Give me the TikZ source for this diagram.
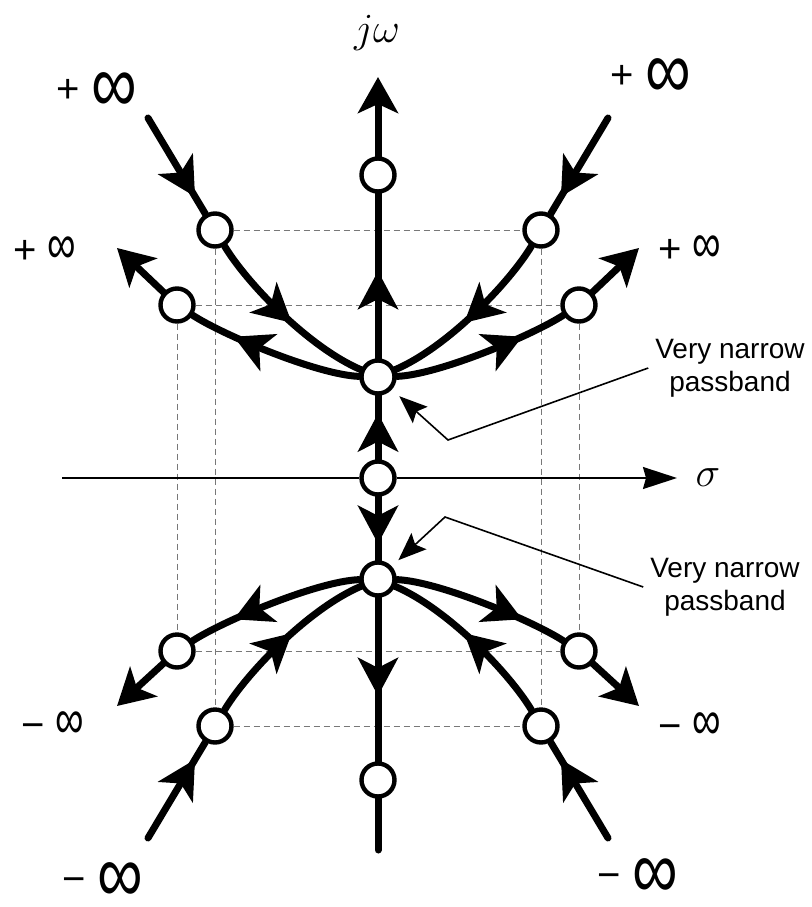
\documentclass[tikz,border=0pt]{standalone}
\usepackage[no-math]{fontspec}
\setmainfont{Liberation Sans}
\usepackage{tikz}
\usetikzlibrary{arrows.meta, decorations.markings}
\definecolor{GuideGray}{RGB}{120, 120, 120}
\newcommand{\biginf}{\raisebox{-5pt}[0pt][0pt]{\fontsize{32}{32}\selectfont\scalebox{1}[1.3]{∞}}}
\newcommand{\smallinf}{\scalebox{1}[1.4]{∞}}
\tikzset{
  pole/.style={circle, draw, fill=white, line width=2.2pt,
    minimum size=16.5pt, inner sep=0pt},
  locus/.style={line width=3.5pt, line cap=round},
  midarr/.style={postaction={decorate}, decoration={markings,
    mark=at position #1 with {\arrow{Stealth[length=19pt,width=20pt,inset=5pt]}}}},
  endarr/.style={-{Stealth[length=18pt,width=20pt,inset=4.5pt]}},
  guide/.style={densely dashed, line width=0.4pt, color=GuideGray},
  axis/.style={line width=0.8pt},
  note/.style={align=center, font=\fontsize{14}{16.5}\selectfont},
  leader/.style={line width=0.8pt, -{Stealth[length=14pt,width=11pt,inset=2.5pt]}},
  inflbl/.style={font=\fontsize{20}{24}\selectfont, inner sep=0pt},
  mlbl/.style={font=\fontsize{20}{24}\selectfont},
}
\begin{document}
\begin{tikzpicture}[x=0.5pt, y=-0.5pt]
  \useasboundingbox (0,0) rectangle (812,907);
  % poles and zeros
  \node[pole] (top) at (378,175) {};
  \node[pole] (pbu) at (378,377) {};
  \node[pole] (org) at (378,478) {};
  \node[pole] (pbl) at (378,579) {};
  \node[pole] (bot) at (378,780) {};
  \node[pole] (ula) at (215,230) {}; \node[pole] (ulb) at (177,305) {};
  \node[pole] (ura) at (541,230) {}; \node[pole] (urb) at (579,305) {};
  \node[pole] (lla) at (215,726) {}; \node[pole] (llb) at (177,651) {};
  \node[pole] (lra) at (541,726) {}; \node[pole] (lrb) at (579,651) {};
  \coordinate (jwtip) at (378,77); \coordinate (jwend) at (378,850);
  \coordinate (s0) at (62,478); \coordinate (s1) at (677,478);
  \coordinate (ula0) at (148,118); \coordinate (ura0) at (608,118);
  \coordinate (lla0) at (148,838); \coordinate (lra0) at (608,838);
  \coordinate (ulb0) at (117,248); \coordinate (urb0) at (639,248);
  \coordinate (llb0) at (117,706); \coordinate (lrb0) at (639,706);
  % dashed guides
  \draw[guide] (ula)--(ura); \draw[guide] (ulb)--(urb);
  \draw[guide] (lla)--(lra); \draw[guide] (llb)--(lrb);
  \draw[guide] (ula)--(lla); \draw[guide] (ura)--(lra);
  \draw[guide] (ulb)--(llb); \draw[guide] (urb)--(lrb);
  % axes
  \draw[axis] (s0)--(org);
  \draw[axis, -{Stealth[length=17pt,width=11pt,inset=1.5pt]}] (org)--(s1);
  \draw[locus, endarr] (top)--(jwtip);
  \draw[locus, midarr=0.53] (pbu)--(top);
  \draw[locus, midarr=0.72] (org)--(pbu);
  \draw[locus, midarr=0.74] (org)--(pbl);
  \draw[locus, midarr=0.6] (pbl)--(bot);
  \draw[locus] (bot)--(jwend);
  % upper branches
  \draw[locus, midarr=0.82] (ula0)--(ula);
  \draw[locus, midarr=0.55] (ula) .. controls (246,282) and (308,347) .. (pbu);
  \draw[locus, midarr=0.74] (pbu) .. controls (318,375) and (223,335) .. (ulb);
  \draw[locus, endarr] (ulb)--(ulb0);
  \draw[locus, midarr=0.82] (ura0)--(ura);
  \draw[locus, midarr=0.55] (ura) .. controls (510,282) and (448,347) .. (pbu);
  \draw[locus, midarr=0.74] (pbu) .. controls (438,375) and (533,335) .. (urb);
  \draw[locus, endarr] (urb)--(urb0);
  % lower branches
  \draw[locus, midarr=0.82] (lla0)--(lla);
  \draw[locus, midarr=0.55] (lla) .. controls (246,674) and (308,609) .. (pbl);
  \draw[locus, midarr=0.74] (pbl) .. controls (318,581) and (223,621) .. (llb);
  \draw[locus, endarr] (llb)--(llb0);
  \draw[locus, midarr=0.82] (lra0)--(lra);
  \draw[locus, midarr=0.55] (lra) .. controls (510,674) and (448,609) .. (pbl);
  \draw[locus, midarr=0.74] (pbl) .. controls (438,581) and (533,621) .. (lrb);
  \draw[locus, endarr] (lrb)--(lrb0);
  % labels
  \node[mlbl] (jw) at (377,33) {$j\omega$};
  \node[mlbl] (sig) at (708,478) {$\sigma$};
  \node[inflbl] (pinf1) at (97,91) {+ \biginf};
  \node[inflbl] (pinf2) at (651,77) {+ \biginf};
  \node[inflbl] (pinf3) at (45,250) {+ \smallinf};
  \node[inflbl] (pinf4) at (690,249) {+ \smallinf};
  \node[inflbl] (minf1) at (53,725) {− \smallinf};
  \node[inflbl] (minf2) at (690,726) {− \smallinf};
  \node[inflbl] (minf3) at (103,885) {− \biginf};
  \node[inflbl] (minf4) at (638,881) {− \biginf};
  \node[note] (nu) at (730,368) {Very narrow\\passband};
  \node[note] (nl) at (725,587) {Very narrow\\passband};
  \coordinate (bu) at (448,440); \coordinate (bl) at (445,517);
  \draw[leader, shorten >=5pt] (nu.west)--(bu)--(pbu);
  \draw[leader, shorten >=4.5pt] (nl.west)--(bl)--(pbl);
\end{tikzpicture}
\end{document}
